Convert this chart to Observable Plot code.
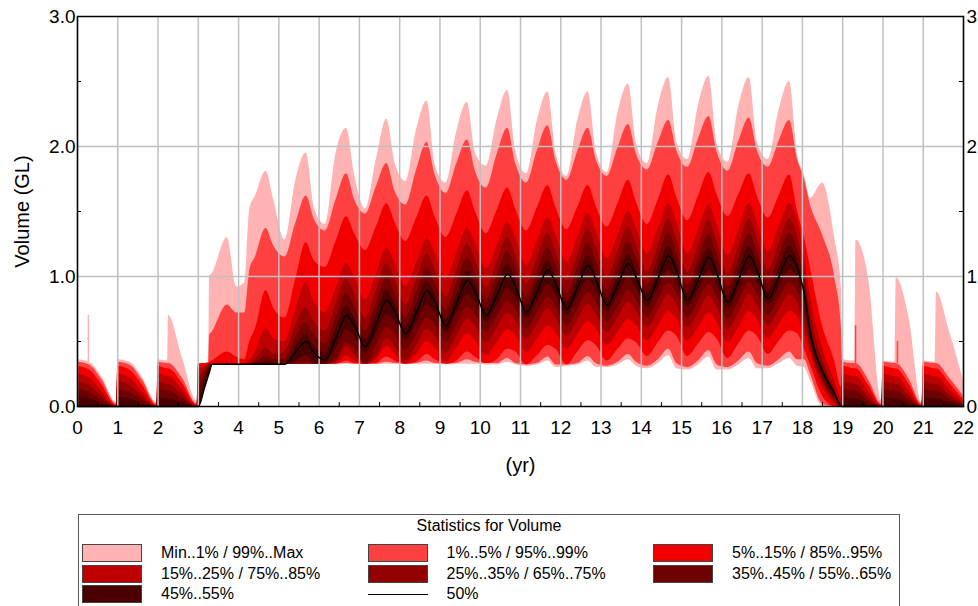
<!DOCTYPE html>
<html><head><meta charset="utf-8">
<script src="https://cdn.jsdelivr.net/npm/d3@7"></script>
<script src="https://cdn.jsdelivr.net/npm/@observablehq/plot@0.6"></script>
<style>
html,body{margin:0;padding:0;background:#fff;}
body{font-family:Arial,"Liberation Sans",sans-serif;color:#000;width:978px;height:606px;overflow:hidden;position:relative;}
#chart{position:absolute;left:0;top:0;}
#legend{position:absolute;left:78px;top:514px;width:822px;height:110px;border:1px solid #555;box-sizing:border-box;font-size:16px;}
#legend .title{position:absolute;left:0;width:100%;top:2px;text-align:center;line-height:18px;}
#legend .sw{position:absolute;width:58px;height:16px;border:1px solid #444;}
#legend .ln{position:absolute;width:60px;height:0;border-top:1.5px solid #000;}
#legend .lb{position:absolute;line-height:18px;white-space:nowrap;}
</style></head>
<body><div id="chart"></div><div id="legend"></div>
<script>
// ---- time (yr) ----
const t = [0,0.3,0.6,0.97, 1,1.3,1.6,1.97, 2,2.24,2.26,2.6,2.97,
  3,3.15,3.26,3.28,3.34,3.72,3.95,
  4.15,4.28,4.42,4.68,4.88,
  5.15,5.42,5.68,5.88, 6.15,6.42,6.68,6.88, 7.15,7.42,7.68,7.88, 8.15,8.42,8.68,8.88,
  9.15,9.42,9.68,9.88, 10.15,10.42,10.68,10.88, 11.15,11.42,11.68,11.88, 12.15,12.42,12.68,12.88,
  13.15,13.42,13.68,13.88, 14.15,14.42,14.68,14.88, 15.15,15.42,15.68,15.88, 16.15,16.42,16.68,16.88,
  17.15,17.42,17.68,17.88,
  18.05,18.2,18.5,18.8,18.97,
  19,19.3,19.33,19.65,19.97, 20,20.3,20.33,20.65,20.97, 21,21.3,21.33,21.65,22];

// ---- percentile series (GL) ----
const mx = [0.36,0.34,0.23,0.03, 0.36,0.34,0.23,0.03, 0.36,0.35,0.70,0.38,0.04,
  0.33,0.33,0.34,1.00,1.02,1.30,0.92,
  0.95,1.52,1.62,1.81,1.58,
  1.28,1.74,1.95,1.53, 1.40,1.95,2.14,1.78, 1.52,1.90,2.21,1.88, 1.73,2.13,2.35,1.86,
  1.72,2.12,2.34,1.95, 1.85,2.21,2.43,1.97, 1.79,2.20,2.42,1.95, 1.77,2.20,2.42,1.96,
  1.80,2.26,2.48,2.02, 1.87,2.31,2.53,2.03, 1.90,2.32,2.54,2.02, 1.88,2.31,2.53,2.03,
  1.90,2.28,2.50,1.93,
  1.78,1.60,1.72,1.30,0.90,
  0.36,0.35,1.28,0.97,0.05, 0.35,0.34,0.99,0.68,0.03, 0.35,0.34,0.88,0.58,0.20];
const p99 = [0.34,0.32,0.21,0.02, 0.34,0.32,0.21,0.02, 0.34,0.33,0.33,0.22,0.02,
  0.33,0.33,0.34,0.55,0.57,0.78,0.72,
  0.72,1.05,1.15,1.37,1.23,
  1.15,1.41,1.62,1.44, 1.35,1.59,1.79,1.59, 1.48,1.69,1.87,1.66, 1.55,1.82,2.03,1.78,
  1.64,1.87,2.05,1.81, 1.68,1.94,2.14,1.87, 1.72,1.97,2.16,1.89, 1.74,1.96,2.14,1.90,
  1.77,1.99,2.17,1.94, 1.82,2.03,2.20,1.97, 1.84,2.06,2.23,1.96, 1.81,2.04,2.22,1.97,
  1.84,2.04,2.20,1.90,
  1.75,1.55,1.32,1.00,0.60,
  0.34,0.33,0.33,0.20,0.02, 0.34,0.33,0.33,0.21,0.02, 0.34,0.33,0.33,0.22,0.08];
const p95 = [0.31,0.28,0.17,0.01, 0.31,0.28,0.17,0.01, 0.31,0.29,0.29,0.18,0.01,
  0.32,0.33,0.33,0.34,0.35,0.42,0.38,
  0.36,0.50,0.60,0.89,0.75,
  0.68,0.98,1.26,1.12, 1.07,1.27,1.46,1.33, 1.20,1.38,1.56,1.42, 1.27,1.45,1.62,1.46,
  1.30,1.48,1.66,1.50, 1.33,1.51,1.68,1.52, 1.35,1.53,1.70,1.53, 1.36,1.53,1.70,1.54,
  1.38,1.56,1.74,1.57, 1.40,1.59,1.78,1.61, 1.43,1.62,1.80,1.63, 1.46,1.63,1.79,1.62,
  1.45,1.62,1.78,1.50,
  1.30,1.07,0.62,0.35,0.15,
  0.31,0.29,0.29,0.16,0.01, 0.31,0.29,0.29,0.17,0.01, 0.31,0.29,0.29,0.18,0.05];
const p85 = [0.25,0.22,0.12,0, 0.25,0.22,0.12,0, 0.25,0.23,0.23,0.13,0,
  0.28,0.31,0.33,0.33,0.33,0.33,0.33,
  0.33,0.36,0.42,0.60,0.52,
  0.50,0.75,0.95,0.80, 0.72,0.91,1.10,1.00, 0.82,1.02,1.22,1.11, 0.92,1.105,1.29,1.18,
  0.98,1.18,1.37,1.26, 1.06,1.24,1.42,1.30, 1.085,1.27,1.45,1.32, 1.11,1.30,1.485,1.35,
  1.14,1.32,1.50,1.37, 1.175,1.37,1.56,1.42, 1.175,1.36,1.55,1.40, 1.16,1.36,1.56,1.42,
  1.19,1.38,1.56,1.44,
  1.15,0.85,0.45,0.20,0.06,
  0.25,0.23,0.23,0.11,0, 0.25,0.23,0.23,0.12,0, 0.25,0.23,0.23,0.13,0.03];
const p75 = [0.19,0.16,0.08,0, 0.19,0.16,0.08,0, 0.19,0.17,0.17,0.09,0,
  0.20,0.28,0.32,0.325,0.325,0.33,0.325,
  0.325,0.33,0.36,0.45,0.40,
  0.42,0.62,0.76,0.65, 0.58,0.78,0.98,0.87, 0.68,0.89,1.10,0.98, 0.78,0.975,1.17,1.05,
  0.84,1.05,1.25,1.13, 0.92,1.11,1.30,1.17, 0.945,1.14,1.33,1.19, 0.97,1.17,1.365,1.22,
  1.00,1.19,1.38,1.24, 1.035,1.24,1.44,1.29, 1.035,1.23,1.43,1.27, 1.02,1.23,1.44,1.29,
  1.05,1.25,1.44,1.31,
  1.05,0.72,0.36,0.14,0.02,
  0.19,0.17,0.17,0.07,0, 0.19,0.17,0.17,0.08,0, 0.19,0.17,0.17,0.09,0.02];
const p65 = [0.13,0.11,0.05,0, 0.13,0.11,0.05,0, 0.13,0.12,0.12,0.06,0,
  0.10,0.24,0.31,0.32,0.325,0.325,0.325,
  0.325,0.325,0.34,0.38,0.36,
  0.36,0.53,0.64,0.55, 0.48,0.68,0.87,0.77, 0.58,0.79,0.99,0.88, 0.68,0.875,1.06,0.95,
  0.74,0.95,1.14,1.03, 0.82,1.01,1.19,1.07, 0.845,1.04,1.22,1.09, 0.87,1.07,1.255,1.12,
  0.90,1.09,1.27,1.14, 0.935,1.14,1.33,1.19, 0.935,1.13,1.32,1.17, 0.92,1.13,1.33,1.19,
  0.95,1.15,1.33,1.21,
  0.98,0.64,0.31,0.12,0.01,
  0.13,0.12,0.12,0.04,0, 0.13,0.12,0.12,0.05,0, 0.13,0.12,0.12,0.06,0.01];
const p55 = [0.07,0.06,0.02,0, 0.07,0.06,0.02,0, 0.07,0.06,0.06,0.03,0,
  0.03,0.19,0.29,0.30,0.325,0.325,0.325,
  0.325,0.325,0.33,0.34,0.335,
  0.33,0.46,0.55,0.46, 0.41,0.59,0.77,0.68, 0.51,0.70,0.89,0.79, 0.61,0.785,0.96,0.86,
  0.67,0.86,1.04,0.94, 0.75,0.92,1.09,0.98, 0.775,0.95,1.12,1.00, 0.80,0.98,1.155,1.03,
  0.83,1.00,1.17,1.05, 0.865,1.05,1.23,1.10, 0.865,1.04,1.22,1.08, 0.85,1.04,1.23,1.10,
  0.88,1.06,1.23,1.12,
  0.92,0.60,0.29,0.11,0,
  0.07,0.06,0.06,0.02,0, 0.07,0.06,0.06,0.02,0, 0.07,0.06,0.06,0.03,0];
const p50 = [0,0,0,0, 0,0,0,0, 0,0,0,0,0,
  0,0.14,0.25,0.27,0.325,0.325,0.325,
  0.325,0.325,0.325,0.325,0.325,
  0.325,0.42,0.50,0.41, 0.36,0.53,0.70,0.62, 0.46,0.64,0.82,0.73, 0.56,0.725,0.89,0.80,
  0.62,0.80,0.97,0.88, 0.70,0.86,1.02,0.92, 0.725,0.89,1.05,0.94, 0.75,0.92,1.085,0.97,
  0.78,0.94,1.10,0.99, 0.815,0.99,1.16,1.04, 0.815,0.98,1.15,1.02, 0.80,0.98,1.16,1.04,
  0.83,1.00,1.16,1.06,
  0.86,0.56,0.27,0.10,0,
  0,0,0,0,0, 0,0,0,0,0, 0,0,0,0,0];
const p45 = [0,0,0,0, 0,0,0,0, 0,0,0,0,0,
  0,0.14,0.25,0.27,0.325,0.325,0.325,
  0.325,0.325,0.325,0.325,0.325,
  0.325,0.34,0.39,0.33, 0.325,0.45,0.59,0.54, 0.41,0.56,0.71,0.65, 0.51,0.645,0.78,0.72,
  0.57,0.72,0.86,0.80, 0.65,0.78,0.91,0.84, 0.675,0.81,0.94,0.86, 0.70,0.84,0.975,0.89,
  0.73,0.86,0.99,0.91, 0.765,0.91,1.05,0.96, 0.765,0.90,1.04,0.94, 0.75,0.90,1.05,0.96,
  0.78,0.92,1.05,0.98,
  0.80,0.53,0.25,0.08,0,
  0,0,0,0,0, 0,0,0,0,0, 0,0,0,0,0];
const p35 = [0,0,0,0, 0,0,0,0, 0,0,0,0,0,
  0,0.14,0.25,0.27,0.325,0.325,0.325,
  0.325,0.325,0.325,0.325,0.325,
  0.325,0.325,0.34,0.325, 0.325,0.36,0.49,0.45, 0.33,0.47,0.61,0.56, 0.43,0.555,0.68,0.63,
  0.49,0.63,0.76,0.71, 0.57,0.69,0.81,0.75, 0.595,0.72,0.84,0.77, 0.62,0.75,0.875,0.80,
  0.65,0.77,0.89,0.82, 0.685,0.82,0.95,0.87, 0.685,0.81,0.94,0.85, 0.67,0.81,0.95,0.87,
  0.70,0.83,0.95,0.89,
  0.72,0.49,0.22,0.06,0,
  0,0,0,0,0, 0,0,0,0,0, 0,0,0,0,0];
const p25 = [0,0,0,0, 0,0,0,0, 0,0,0,0,0,
  0,0.14,0.25,0.27,0.325,0.325,0.325,
  0.325,0.325,0.325,0.325,0.325,
  0.325,0.325,0.325,0.325, 0.325,0.34,0.46,0.40, 0.325,0.38,0.52,0.47, 0.35,0.465,0.59,0.54,
  0.41,0.54,0.67,0.62, 0.49,0.60,0.72,0.66, 0.515,0.63,0.75,0.68, 0.54,0.66,0.785,0.71,
  0.57,0.68,0.80,0.73, 0.605,0.73,0.86,0.78, 0.605,0.72,0.85,0.76, 0.59,0.72,0.86,0.78,
  0.62,0.74,0.86,0.80,
  0.64,0.45,0.19,0.04,0,
  0,0,0,0,0, 0,0,0,0,0, 0,0,0,0,0];
const p15 = [0,0,0,0, 0,0,0,0, 0,0,0,0,0,
  0,0.14,0.25,0.27,0.325,0.325,0.325,
  0.325,0.325,0.325,0.325,0.325,
  0.325,0.325,0.325,0.325, 0.325,0.33,0.39,0.35, 0.325,0.36,0.46,0.40, 0.325,0.40,0.50,0.45,
  0.34,0.45,0.56,0.51, 0.39,0.49,0.59,0.55, 0.415,0.52,0.62,0.57, 0.44,0.55,0.655,0.60,
  0.47,0.57,0.67,0.62, 0.505,0.62,0.73,0.67, 0.505,0.61,0.72,0.65, 0.49,0.61,0.73,0.67,
  0.52,0.63,0.73,0.69,
  0.55,0.40,0.15,0.02,0,
  0,0,0,0,0, 0,0,0,0,0, 0,0,0,0,0];
const p5 = [0,0,0,0, 0,0,0,0, 0,0,0,0,0,
  0,0.14,0.25,0.27,0.325,0.325,0.325,
  0.325,0.325,0.325,0.325,0.325,
  0.325,0.325,0.325,0.325, 0.325,0.325,0.35,0.33, 0.325,0.33,0.38,0.35, 0.325,0.34,0.40,0.36,
  0.325,0.35,0.42,0.38, 0.33,0.36,0.44,0.42, 0.32,0.39,0.47,0.44, 0.32,0.42,0.505,0.47,
  0.35,0.44,0.52,0.49, 0.385,0.49,0.58,0.54, 0.385,0.48,0.57,0.52, 0.37,0.48,0.58,0.54,
  0.40,0.50,0.58,0.56,
  0.44,0.32,0.08,0,0,
  0,0,0,0,0, 0,0,0,0,0, 0,0,0,0,0];
const p1 = [0,0,0,0, 0,0,0,0, 0,0,0,0,0,
  0,0.14,0.25,0.27,0.325,0.325,0.325,
  0.325,0.325,0.325,0.325,0.325,
  0.325,0.325,0.325,0.325, 0.325,0.325,0.33,0.325, 0.325,0.325,0.34,0.33, 0.325,0.33,0.35,0.33,
  0.325,0.33,0.36,0.34, 0.33,0.33,0.37,0.33, 0.32,0.33,0.38,0.32, 0.32,0.33,0.385,0.33,
  0.31,0.34,0.40,0.34, 0.31,0.36,0.44,0.33, 0.30,0.35,0.43,0.32, 0.30,0.35,0.42,0.33,
  0.31,0.36,0.42,0.36,
  0.36,0.25,0.02,0,0,
  0,0,0,0,0, 0,0,0,0,0, 0,0,0,0,0];
const mn = [0,0,0,0, 0,0,0,0, 0,0,0,0,0,
  0,0.14,0.25,0.27,0.325,0.325,0.325,
  0.325,0.325,0.325,0.325,0.325,
  0.325,0.325,0.325,0.325, 0.325,0.325,0.325,0.325, 0.325,0.325,0.325,0.325, 0.325,0.325,0.325,0.325,
  0.325,0.325,0.325,0.325, 0.32,0.32,0.34,0.32, 0.31,0.32,0.35,0.30, 0.31,0.32,0.35,0.30,
  0.30,0.32,0.36,0.31, 0.29,0.33,0.39,0.29, 0.28,0.32,0.38,0.28, 0.28,0.32,0.37,0.29,
  0.29,0.33,0.37,0.31,
  0.30,0.20,0,0,0,
  0,0,0,0,0, 0,0,0,0,0, 0,0,0,0,0];

// thin single-sample spikes
const spikeT  = [0.27, 19.32, 20.36];
const spikeLo = [0.34, 0.33, 0.33];
const spikeHi = [0.70, 0.62, 0.50];
const spikeBand = ["Min..1% / 99%..Max", "1%..5% / 95%..99%", "1%..5% / 95%..99%"];

// ---- ticks ----
const xTicks = d3.range(0, 23);
const yTicks = [0, 1, 2, 3];
const yGrid = [1, 2];
const yMinor = [0.5, 1.5, 2.5];
const xMinor = d3.range(0.5, 22, 1);

// ---- legend ----
const legendTitle = "Statistics for Volume";
const legendLabels = ["Min..1% / 99%..Max","1%..5% / 95%..99%","5%..15% / 85%..95%",
  "15%..25% / 75%..85%","25%..35% / 65%..75%","35%..45% / 55%..65%","45%..55%","50%"];
const bandColors = ["#ffb3b3","#ff4040","#f20000","#bf0000","#930000","#6d0000","#4a0000"];

const series = {mn,p1,p5,p15,p25,p35,p45,p50,p55,p65,p75,p85,p95,p99,mx};
for (const [k,v] of Object.entries(series)) if (v.length !== t.length) throw new Error(k+" length "+v.length+" vs "+t.length);

const rows = t.map((x,i) => {const r = {t:x}; for (const k in series) r[k] = series[k][i]; return r;});
const bands = [["mn","mx"],["p1","p99"],["p5","p95"],["p15","p85"],["p25","p75"],["p35","p65"],["p45","p55"]]
  .map(([lo,hi],i) => ({lo, hi, color: bandColors[i]}));
const spikes = spikeT.map((x,i) => ({t:x, lo:spikeLo[i], hi:spikeHi[i], color: bandColors[legendLabels.indexOf(spikeBand[i])]}));

const chart = Plot.plot({
  width: 978, height: 490,
  marginLeft: 77, marginRight: 15, marginTop: 16, marginBottom: 84,
  x: {domain: [0, 22]},
  y: {domain: [0, 3]},
  color: {type: "identity"},
  style: {fontFamily: "Arial, 'Liberation Sans', sans-serif", fontSize: "19px", background: "white", color: "black", overflow: "visible"},
  marks: [
    ...bands.map(b => Plot.areaY(rows, {x: "t", y1: b.lo, y2: b.hi, fill: b.color, curve: "monotone-x"})),
    Plot.ruleX(spikes, {x: "t", y1: "lo", y2: "hi", stroke: "color", strokeWidth: 1.5}),
    Plot.gridX(xTicks, {stroke: "#c0c0c0", strokeOpacity: 1, strokeWidth: 1.5}),
    Plot.gridY(yGrid, {stroke: "#c0c0c0", strokeOpacity: 1, strokeWidth: 1.5}),
    Plot.line(rows, {x: "t", y: "p50", stroke: "black", strokeWidth: 1.5, curve: "monotone-x"}),
    Plot.ruleY(yMinor, {x1: 0, x2: 0.1, stroke: "black"}),
    Plot.ruleY(yMinor, {x1: 21.9, x2: 22, stroke: "black"}),
    Plot.ruleX(xMinor, {y1: 0, y2: 0.03, stroke: "black"}),
    Plot.frame({stroke: "black", strokeWidth: 1.5}),
    Plot.axisX(xTicks, {tickSize: 0, tickPadding: 14, label: null}),
    Plot.axisY(yTicks, {anchor: "left", tickSize: 0, tickPadding: 2, tickFormat: d => d.toFixed(1), label: null}),
    Plot.axisY(yTicks, {anchor: "right", tickSize: 0, tickPadding: 3, tickFormat: d => d.toFixed(0), label: null}),
    Plot.text(["(yr)"], {frameAnchor: "bottom", dy: 59, text: d => d, fontSize: 20, textAnchor: "middle", lineAnchor: "middle"}),
    Plot.text(["Volume (GL)"], {frameAnchor: "left", dx: -55, rotate: -90, text: d => d, fontSize: 20, textAnchor: "middle", lineAnchor: "middle"})
  ]
});
document.getElementById("chart").appendChild(chart);

// legend
const lg = document.getElementById("legend");
const title = document.createElement("div"); title.className = "title"; title.textContent = legendTitle; lg.appendChild(title);
legendLabels.forEach((label, i) => {
  const col = i % 3, row = Math.floor(i / 3);
  const left = 3 + col * 285.5, top = 29 + row * 20.7;
  if (i < bandColors.length) {
    const sw = document.createElement("div"); sw.className = "sw";
    sw.style.left = left + "px"; sw.style.top = top + "px"; sw.style.background = bandColors[i];
    lg.appendChild(sw);
  } else {
    const ln = document.createElement("div"); ln.className = "ln";
    ln.style.left = left + "px"; ln.style.top = (top + 9) + "px";
    lg.appendChild(ln);
  }
  const lb = document.createElement("div"); lb.className = "lb";
  lb.style.left = (left + 79) + "px"; lb.style.top = top + "px"; lb.textContent = label;
  lg.appendChild(lb);
});
</script>
</body></html>
